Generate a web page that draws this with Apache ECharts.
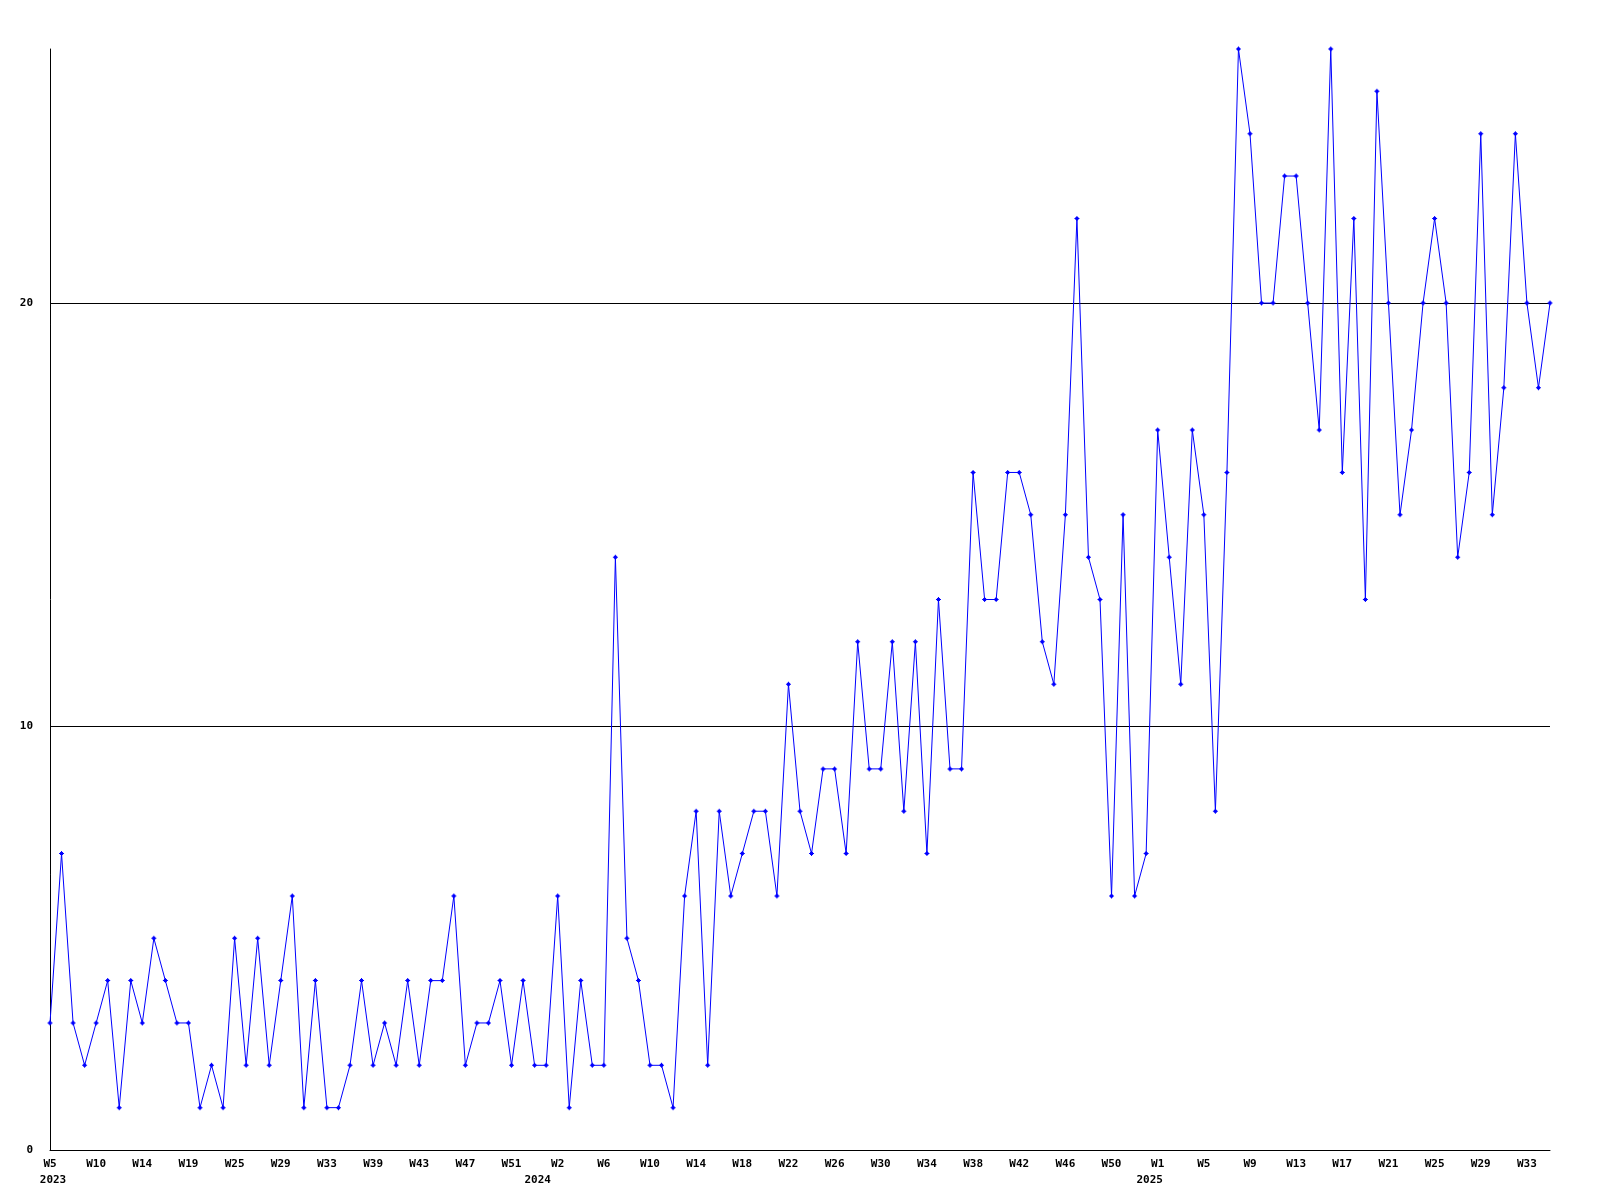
<!DOCTYPE html>
<html>
<head>
<meta charset="utf-8">
<script src="https://cdn.jsdelivr.net/npm/echarts@6/dist/echarts.min.js"></script>
<style>
html,body{margin:0;padding:0;background:#fff;}
#chart{width:1600px;height:1200px;}
</style>
</head>
<body>
<div id="chart"></div>
<script>
// Week numbers per year (x categories)
const weeks2023 = [5,6,7,8,10,11,12,13,14,15,16,17,19,20,22,23,25,26,27,28,29,30,31,32,33,35,36,37,39,40,41,42,43,44,45,46,47,48,49,50,51,52,53];
const weeks2024 = [1,2,3,4,5,6,7,8,9,10,11,12,13,14,15,16,17,18,19,20,21,22,23,24,25,26,27,28,29,30,31,32,33,34,35,36,37,38,39,40,41,42,43,44,45,46,47,48,49,50,51,52,53];
const weeks2025 = [1,2,3,4,5,6,7,8,9,10,11,12,13,14,15,16,17,18,19,20,21,22,23,24,25,26,27,28,29,30,31,32,33,34,35];

// Weekly values
const values = [
  3,7,3,2,3,4,1,4,3,5,
  4,3,3,1,2,1,5,2,5,2,
  4,6,1,4,1,1,2,4,2,3,
  2,4,2,4,4,6,2,3,3,4,
  2,4,2,2,6,1,4,2,2,14,
  5,4,2,2,1,6,8,2,8,6,
  7,8,8,6,11,8,7,9,9,7,
  12,9,9,12,8,12,7,13,9,9,
  16,13,13,16,16,15,12,11,15,22,
  14,13,6,15,6,7,17,14,11,17,
  15,8,16,26,24,20,20,23,23,20,
  17,26,16,22,13,25,20,15,17,20,
  22,20,14,16,24,15,18,24,20,18,
  20
];

const yTicks = [0, 10, 20];

const categories = [];
const catYears = [];
weeks2023.forEach(w => { categories.push('W' + w); catYears.push('2023'); });
weeks2024.forEach(w => { categories.push('W' + w); catYears.push('2024'); });
weeks2025.forEach(w => { categories.push('W' + w); catYears.push('2025'); });

const FONT = 'DejaVu Sans Mono';
const chart = echarts.init(document.getElementById('chart'), null, {renderer: 'canvas'});
chart.setOption({
  animation: false,
  backgroundColor: '#ffffff',
  grid: {left: 50, right: 50, top: 49, bottom: 50, containLabel: false},
  xAxis: {
    type: 'category',
    data: categories,
    boundaryGap: false,
    axisLine: {show: true, lineStyle: {color: '#000', width: 1}},
    axisTick: {show: false},
    splitLine: {show: false},
    axisLabel: {
      interval: 3,
      margin: 6,
      color: '#000',
      fontFamily: FONT,
      fontWeight: 'bold',
      fontSize: 11,
      lineHeight: 16,
      rich: {
        y2023: {fontFamily: FONT, fontWeight: 'bold', fontSize: 11, color: '#000', lineHeight: 16, padding: [0, 0, 0, 6]},
        y2024: {fontFamily: FONT, fontWeight: 'bold', fontSize: 11, color: '#000', lineHeight: 16, padding: [0, 40, 0, 0]},
        y2025: {fontFamily: FONT, fontWeight: 'bold', fontSize: 11, color: '#000', lineHeight: 16, padding: [0, 16, 0, 0]}
      },
      formatter: function (val, idx) {
        const showYear = idx === 0 || catYears[idx] !== catYears[idx - 4];
        return showYear ? val + '\n{y' + catYears[idx] + '|' + catYears[idx] + '}' : val;
      }
    }
  },
  yAxis: {
    type: 'value',
    min: 0,
    max: 26,
    interval: 10,
    axisLine: {show: true, lineStyle: {color: '#000', width: 1}},
    axisTick: {show: false},
    axisLabel: {
      showMaxLabel: false,
      margin: 17,
      color: '#000',
      fontFamily: FONT,
      fontWeight: 'bold',
      fontSize: 11,
      formatter: function (v) { return yTicks.indexOf(v) >= 0 ? String(v) : ''; }
    },
    splitLine: {show: true, lineStyle: {color: ['#000', '#000', '#000', 'rgba(0,0,0,0)'], width: 1}}
  },
  series: [{
    type: 'line',
    data: values,
    color: '#0000ff',
    lineStyle: {color: '#0000ff', width: 1},
    symbol: 'path://M2,0L3,0L3,1L4,1L4,2L5,2L5,3L4,3L4,4L3,4L3,5L2,5L2,4L1,4L1,3L0,3L0,2L1,2L1,1L2,1Z',
    symbolSize: 5,
    showAllSymbol: true,
    itemStyle: {color: '#0000ff', borderWidth: 0},
    clip: false
  }]
});
</script>
</body>
</html>
